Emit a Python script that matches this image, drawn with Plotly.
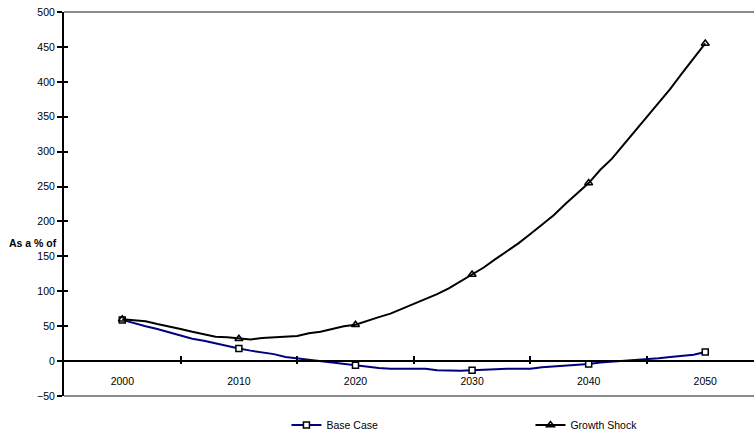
import plotly.graph_objects as go

# Annual projections, 2000-2050 (as a % of)
years = list(range(2000, 2051))

base_case = [
    59, 54, 50, 46, 41, 37, 32, 29, 25, 21,
    18, 15, 13, 10, 6, 4, 2, 0, -3, -5,
    -6, -8, -10, -11, -11, -11, -11, -13, -14, -14,
    -13, -12, -11, -11, -11, -11, -9, -8, -7, -5,
    -4, -2, -1, 0, 1, 2, 4, 6, 7, 9,
    13,
]

growth_shock = [
    60, 58, 57, 53, 50, 46, 42, 38, 35, 34,
    32, 31, 33, 34, 34, 36, 40, 42, 46, 50,
    52, 58, 63, 68, 75, 82, 88, 96, 104, 114,
    124, 134, 146, 157, 169, 182, 196, 209, 225, 240,
    255, 274, 290, 310, 330, 350, 369, 390, 412, 433,
    455,
]

x_label_years = [2000, 2010, 2020, 2030, 2040, 2050]
x_mark_years = [2005, 2015, 2025, 2035, 2045]
y_ticks = [-50, 0, 50, 100, 150, 200, 250, 300, 350, 400, 450, 500]

X_RANGE = [1995, 2054.18]
Y_RANGE = [-50, 500]
ZERO_POS = (0 - Y_RANGE[0]) / (Y_RANGE[1] - Y_RANGE[0])

FONT = "Arial, 'Liberation Sans', sans-serif"
FSIZE = 10.5

# markers only on the decade years
is_decade = [y % 10 == 0 for y in years]
clear = "rgba(0,0,0,0)"

fig = go.Figure()

fig.add_trace(go.Scatter(
    x=years, y=base_case, name="Base Case",
    mode="lines+markers",
    line=dict(color="#000080", width=2),
    marker=dict(
        symbol="square", size=6,
        color=["white" if d else clear for d in is_decade],
        line=dict(color=["black" if d else clear for d in is_decade], width=1.5),
    ),
))

fig.add_trace(go.Scatter(
    x=years, y=growth_shock, name="Growth Shock",
    mode="lines+markers",
    line=dict(color="black", width=2),
    marker=dict(
        symbol="triangle-up-open", size=7,
        color=["black" if d else clear for d in is_decade],
        line=dict(width=1.5),
    ),
))

# empty trace so the overlaying tick axes are drawn
fig.add_trace(go.Scatter(x=[None], y=[None], xaxis="x2", yaxis="y2",
                         showlegend=False, hoverinfo="skip"))

fig.update_layout(
    width=754, height=434,
    margin=dict(l=64, r=0, t=12, b=38, autoexpand=False),
    paper_bgcolor="white", plot_bgcolor="white",
    font=dict(family=FONT, size=FSIZE, color="black"),
    showlegend=True,
    legend=dict(
        orientation="h",
        x=0.3224, xanchor="left",
        y=-0.0755, yanchor="middle",
        entrywidth=199, entrywidthmode="pixels",
        font=dict(family=FONT, size=FSIZE, color="black"),
        bgcolor="rgba(0,0,0,0)",
    ),
    xaxis=dict(
        range=X_RANGE,
        anchor="free", position=ZERO_POS,
        tickmode="array", tickvals=x_label_years,
        ticks="outside", ticklen=10, tickcolor=clear,
        showline=True, linecolor="black", linewidth=2,
        showgrid=False, zeroline=False,
        minor=dict(tickmode="array", tickvals=x_mark_years,
                   ticks="outside", ticklen=2, tickcolor="black", tickwidth=1.5),
        tickfont=dict(family=FONT, size=FSIZE, color="black"),
    ),
    xaxis2=dict(
        range=X_RANGE, overlaying="x",
        anchor="free", position=ZERO_POS,
        tickmode="array", tickvals=x_mark_years,
        ticks="inside", ticklen=5, tickcolor="black", tickwidth=1.5,
        showticklabels=False, showline=False, showgrid=False, zeroline=False,
    ),
    yaxis=dict(
        range=Y_RANGE,
        tickmode="array", tickvals=y_ticks,
        ticks="outside", ticklen=5, tickcolor="black", tickwidth=1.5,
        showline=True, linecolor="black", linewidth=2,
        showgrid=False, zeroline=False,
        tickfont=dict(family=FONT, size=FSIZE, color="black"),
    ),
    yaxis2=dict(
        range=Y_RANGE, overlaying="y", side="left", anchor="x",
        tickmode="array", tickvals=y_ticks,
        ticks="inside", ticklen=4, tickcolor="black", tickwidth=1.5,
        showticklabels=False, showline=False, showgrid=False, zeroline=False,
    ),
    shapes=[
        dict(type="line", xref="paper", yref="paper", x0=0, x1=1, y0=1, y1=1,
             line=dict(color="#8c8c8c", width=2), layer="below"),
        dict(type="line", xref="paper", yref="paper", x0=0, x1=1, y0=0, y1=0,
             line=dict(color="#8c8c8c", width=2), layer="below"),
    ],
    annotations=[
        dict(text="<b>As a % of</b>", xref="paper", yref="paper",
             x=-0.0812, xanchor="left", y=0.398, yanchor="middle",
             showarrow=False, borderpad=0,
             font=dict(family=FONT, size=10.5, color="black")),
    ],
)

fig.write_html("out.html")
